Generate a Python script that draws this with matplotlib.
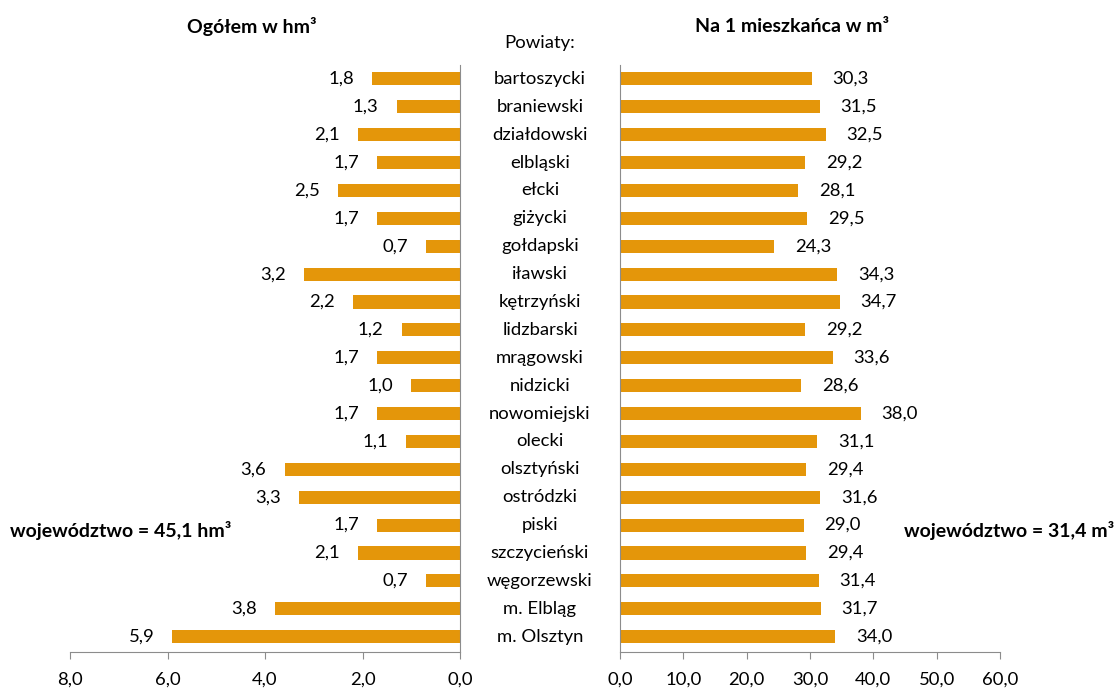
import matplotlib.pyplot as plt
import numpy as np

powiaty = ['bartoszycki', 'braniewski', 'działdowski', 'elbląski', 'ełcki',
           'giżycki', 'gołdapski', 'iławski', 'kętrzyński', 'lidzbarski',
           'mrągowski', 'nidzicki', 'nowomiejski', 'olecki', 'olsztyński',
           'ostródzki', 'piski', 'szczycieński', 'węgorzewski', 'm. Elbląg',
           'm. Olsztyn']
ogolem = [1.8, 1.3, 2.1, 1.7, 2.5, 1.7, 0.7, 3.2, 2.2, 1.2, 1.7, 1.0, 1.7,
          1.1, 3.6, 3.3, 1.7, 2.1, 0.7, 3.8, 5.9]
na_mieszkanca = [30.3, 31.5, 32.5, 29.2, 28.1, 29.5, 24.3, 34.3, 34.7, 29.2,
                 33.6, 28.6, 38.0, 31.1, 29.4, 31.6, 29.0, 29.4, 31.4, 31.7,
                 34.0]
left_ticks = [8.0, 6.0, 4.0, 2.0, 0.0]
right_ticks = [0.0, 10.0, 20.0, 30.0, 40.0, 50.0, 60.0]

plt.rcParams['font.family'] = ['Lato', 'DejaVu Sans']
color = '#E4960A'
grey = '#8C8C8C'
fs = 13.3
fsb = 14

def fmt(v):
    return f'{v:.1f}'.replace('.', ',')

fig = plt.figure(figsize=(11.18, 6.88), dpi=100)
W, H = 1118, 688
top, bottom = 65, 652
axL = fig.add_axes([70 / W, 1 - bottom / H, 390 / W, (bottom - top) / H])
axR = fig.add_axes([620 / W, 1 - bottom / H, 380 / W, (bottom - top) / H])

y = np.arange(len(powiaty))
axL.barh(y, ogolem, height=0.47, color=color)
axR.barh(y, na_mieszkanca, height=0.47, color=color)

for ax in (axL, axR):
    ax.set_ylim(len(powiaty) - 0.45, -0.5)
    ax.set_yticks([])
    ax.spines['top'].set_visible(False)
    for s in ax.spines.values():
        s.set_color(grey)
    ax.tick_params(axis='x', direction='out', length=5, color=grey,
                   labelsize=fs, pad=9)

axL.set_xlim(8, 0)
axL.set_xticks(left_ticks)
axL.set_xticklabels([fmt(t) for t in left_ticks])
axL.spines['left'].set_visible(False)

axR.set_xlim(0, 60)
axR.set_xticks(right_ticks)
axR.set_xticklabels([fmt(t) for t in right_ticks])
axR.spines['right'].set_visible(False)

for i, v in enumerate(ogolem):
    axL.annotate(fmt(v), (v, i), xytext=(-13, 0), textcoords='offset points',
                 ha='right', va='center', fontsize=fs)
for i, v in enumerate(na_mieszkanca):
    axR.annotate(fmt(v), (v, i), xytext=(15, 0), textcoords='offset points',
                 ha='left', va='center', fontsize=fs)

# category names between the two panels
for i, name in enumerate(powiaty):
    yy = axL.transData.transform((0, i))[1]
    fig.text(540 / W, yy / fig.dpi / fig.get_figheight(), name, ha='center',
             va='center', fontsize=fs)

fig.text(540 / W, 1 - 43 / H, 'Powiaty:', ha='center', va='center', fontsize=fs)
fig.text(252 / W, 1 - 27 / H, 'Ogółem w hm³', ha='center', va='center',
         fontsize=fsb, fontweight='bold')
fig.text(792 / W, 1 - 27 / H, 'Na 1 mieszkańca w m³', ha='center', va='center',
         fontsize=fsb, fontweight='bold')
fig.text(10 / W, 1 - 530 / H, 'województwo = 45,1 hm³', ha='left',
         va='center', fontsize=fsb, fontweight='bold')
fig.text(1114 / W, 1 - 530 / H, 'województwo = 31,4 m³', ha='right',
         va='center', fontsize=fsb, fontweight='bold')

plt.savefig('out.png', dpi=100)
